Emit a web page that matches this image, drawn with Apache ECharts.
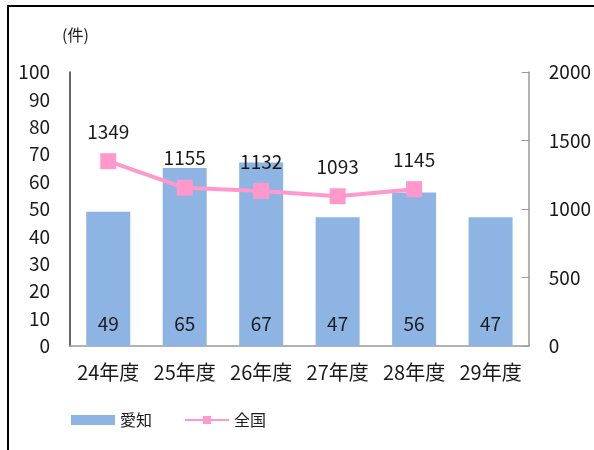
<!DOCTYPE html>
<html>
<head>
<meta charset="utf-8">
<script src="https://cdn.jsdelivr.net/npm/echarts@6/dist/echarts.min.js"></script>
<style>
  html, body { margin: 0; padding: 0; background: #fff; }
  #main { width: 594px; height: 450px; }
</style>
</head>
<body>
<div id="main"></div>
<script>
// data
const categories = ['24年度', '25年度', '26年度', '27年度', '28年度', '29年度']
const aichiData = [49, 65, 67, 47, 56, 47]
const zenkokuData = [1349, 1155, 1132, 1093, 1145, null]
const leftTicks = { min: 0, max: 100, interval: 10 }
const rightTicks = { min: 0, max: 2000, interval: 500 }

const font = '"Noto Sans CJK JP", "Noto Sans", sans-serif'
const textColor = '#1a1a1a'

const myChart = echarts.init(document.getElementById('main'))

const option = {
  textStyle: { fontFamily: font },
  animation: false,
  graphic: [
    {
      type: 'rect',
      shape: { x: 8, y: 6, width: 600, height: 460 },
      style: { fill: 'none', stroke: '#000', lineWidth: 2 },
    },
    {
      type: 'text',
      left: 62,
      top: 27,
      style: { text: '(件)', font: '16px ' + font, fill: textColor },
    },
  ],
  legend: {
    left: 66,
    top: 407,
    itemWidth: 44,
    itemHeight: 10,
    itemGap: 32,
    textStyle: { fontSize: 16, color: textColor },
    data: [
      { name: '愛知', icon: 'rect' },
      { name: '全国' },
    ],
  },
  grid: {
    left: 70,
    right: 65,
    top: 72,
    bottom: 104,
  },
  xAxis: {
    type: 'category',
    data: categories,
    axisLine: { lineStyle: { color: '#999', width: 1.5 } },
    axisTick: { show: false },
    axisLabel: { fontSize: 20, color: textColor, margin: 16, interval: 0, hideOverlap: false },
  },
  yAxis: [
    {
      type: 'value',
      min: leftTicks.min,
      max: leftTicks.max,
      interval: leftTicks.interval,
      axisLine: { show: true, lineStyle: { color: '#333', width: 1.5 } },
      axisTick: { show: false },
      splitLine: { show: false },
      axisLabel: { fontSize: 19, color: textColor, margin: 20 },
    },
    {
      type: 'value',
      min: rightTicks.min,
      max: rightTicks.max,
      interval: rightTicks.interval,
      position: 'right',
      axisLine: { show: true, lineStyle: { color: '#999', width: 1.5 } },
      axisTick: { show: true, inside: true, length: 7, lineStyle: { color: '#999' } },
      splitLine: { show: false },
      axisLabel: {
        fontSize: 19,
        color: textColor,
        margin: 20,
        formatter: (val) => String(val),
      },
    },
  ],
  series: [
    {
      name: '愛知',
      type: 'bar',
      yAxisIndex: 0,
      barWidth: 44,
      itemStyle: { color: '#8EB4E3' },
      label: {
        show: true,
        position: 'insideBottom',
        distance: 13,
        fontSize: 19,
        color: textColor,
      },
      data: aichiData,
      z: 1,
    },
    {
      name: '全国',
      type: 'line',
      yAxisIndex: 1,
      symbol: 'rect',
      symbolSize: 16,
      itemStyle: { color: '#FF99CC' },
      lineStyle: { color: '#FF99CC', width: 4 },
      label: {
        show: true,
        position: 'top',
        distance: 12,
        fontSize: 19,
        color: textColor,
      },
      data: zenkokuData,
      z: 3,
    },
  ],
}

myChart.setOption(option)
</script>
</body>
</html>
